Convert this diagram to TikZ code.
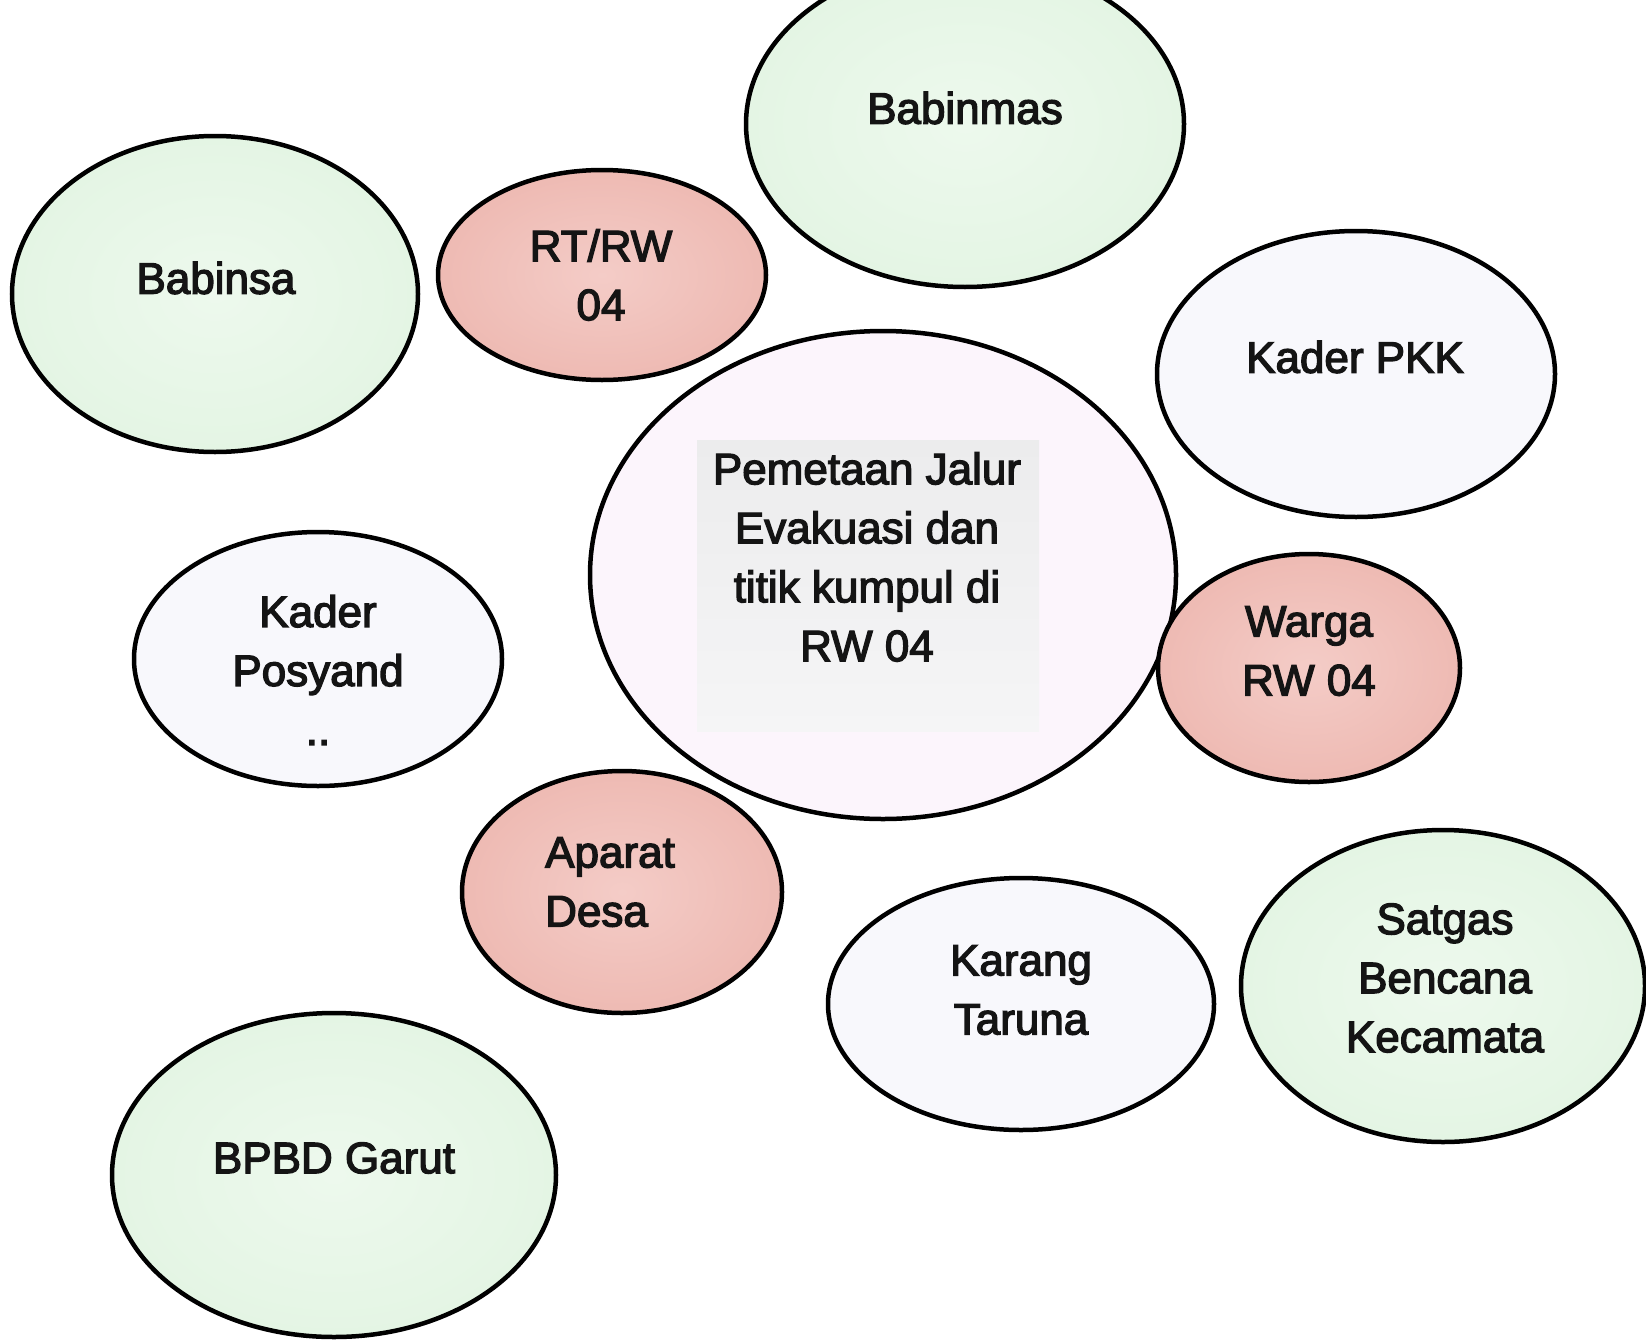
\documentclass[tikz,border=0pt]{standalone}
\usepackage{fontspec}
\setmainfont{Liberation Sans}
\newfontfamily\lblfont{Liberation Sans}
\usetikzlibrary{shapes.geometric}
\definecolor{mintc}{RGB}{228,245,228}
\definecolor{mintl}{RGB}{237,249,237}
\definecolor{pinkc}{RGB}{238,186,179}
\definecolor{pinkl}{RGB}{244,204,199}
\definecolor{palec}{RGB}{248,248,252}
\definecolor{lavc}{RGB}{252,245,252}
\definecolor{boxt}{RGB}{236,236,237}
\definecolor{boxb}{RGB}{245,245,246}
\begin{document}
\begin{tikzpicture}[x=1pt,y=-1pt,
  blob/.style={ellipse, draw=black, line width=4.5pt, inner sep=0pt},
  mintblob/.style={blob, shading=radial, inner color=mintl, outer color=mintc},
  pinkblob/.style={blob, shading=radial, inner color=pinkl, outer color=pinkc},
  paleblob/.style={blob, fill=palec},
  lavblob/.style={blob, fill=lavc},
  lbl/.style={font=\lblfont\addfontfeature{FakeBold=3}\fontsize{44}{59}\selectfont, align=center, text=black!92, inner sep=0pt}
]
\useasboundingbox (0,0) rectangle (1646,1341);
\fill[white] (0,0) rectangle (1646,1341);

% ellipses
\node[mintblob, minimum width=406pt, minimum height=316pt] (babinsa) at (215,294) {};
\node[pinkblob, minimum width=328pt, minimum height=210pt] (rtrw) at (602,275) {};
\node[mintblob, minimum width=438pt, minimum height=326pt] (babinmas) at (965,124) {};
\node[paleblob, minimum width=398pt, minimum height=286pt] (pkk) at (1356,374) {};
\node[lavblob, minimum width=586pt, minimum height=488pt] (center) at (883,575) {};
\node[paleblob, minimum width=368pt, minimum height=254pt] (posyandu) at (318,659) {};
\node[pinkblob, minimum width=302pt, minimum height=228pt] (warga) at (1309,668) {};
\node[pinkblob, minimum width=320pt, minimum height=242pt] (aparat) at (622,892) {};
\node[paleblob, minimum width=386pt, minimum height=252pt] (karang) at (1021,1004) {};
\node[mintblob, minimum width=404pt, minimum height=312pt] (satgas) at (1443,986) {};
\node[mintblob, minimum width=444pt, minimum height=324pt] (bpbd) at (334,1175) {};

% grey box in the centre
\node[top color=boxt, bottom color=boxb, minimum width=342pt, minimum height=291pt, inner sep=0pt] (box) at (868,586) {};

% labels
\node[lbl] (tbabinsa) at (216,278) {Babinsa};
\node[lbl] (trtrw) at (601,275) {RT/RW\\04};
\node[lbl] (tbabinmas) at (965,108) {Babinmas};
\node[lbl] (tpkk) at (1355,357) {Kader PKK};
\node[lbl] (tcenter) at (867,557) {Pemetaan Jalur\\Evakuasi dan\\titik kumpul di\\RW 04};
\node[lbl] (tposyandu) at (318,670) {Kader\\Posyand\\..};
\node[lbl] (twarga) at (1309,651) {Warga\\RW 04};
\node[lbl, align=left] (taparat) at (610,882) {Aparat\\Desa};
\node[lbl] (tkarang) at (1021,990) {Karang\\Taruna};
\node[lbl] (tsatgas) at (1445,978) {Satgas\\Bencana\\Kecamata};
\node[lbl] (tbpbd) at (334,1158) {BPBD Garut};
\end{tikzpicture}
\end{document}
